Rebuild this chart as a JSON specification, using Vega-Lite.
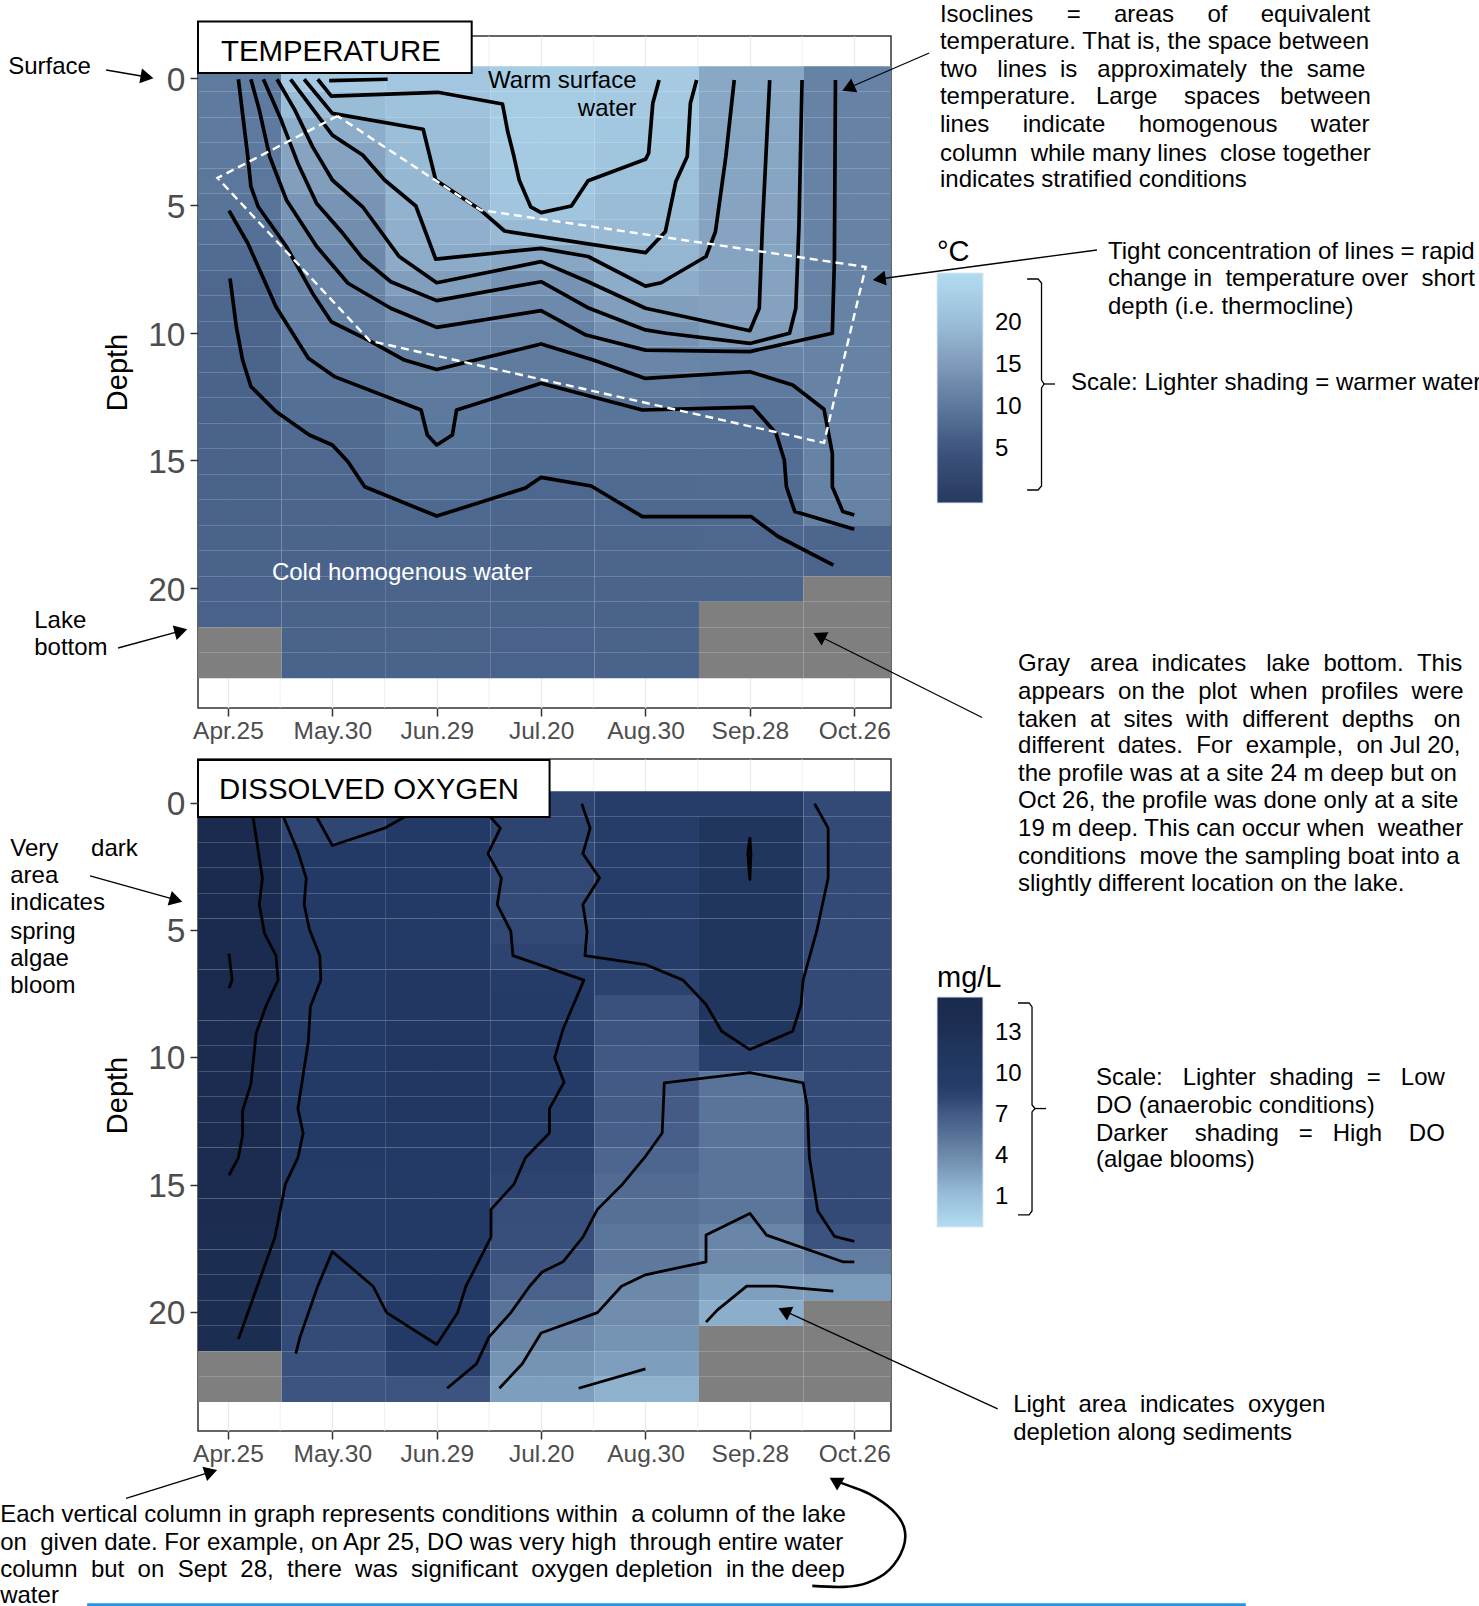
{
"$schema":"https://vega.github.io/schema/vega-lite/v6.json",
"autosize":{"type":"none"},
"padding":{"left":198,"top":36,"right":1281,"bottom":1570},
"background":"white",
"resolve":{"scale":{"color":"independent"},"legend":{"color":"independent"}},
"config":{"font":"Liberation Sans","view":{"stroke":"#333333","strokeWidth":1.5},"concat":{"spacing":51},"axis":{"domain":false,"grid":false,"tickColor":"#333333","tickWidth":1.5,"tickSize":8,"labelColor":"#4d4d4d","titleFontWeight":"normal"}},
"datasets":{
"grid":[{"col":1.5},{"col":2.5},{"col":3.5},{"col":4.5},{"col":5.5},{"col":6.5}],
"temp":[
{"col":1,"depth":0,"v":10.25},{"col":1,"depth":1,"v":10.2},{"col":1,"depth":2,"v":10.1},{"col":1,"depth":3,"v":9.95},{"col":1,"depth":4,"v":9.7},{"col":1,"depth":5,"v":9.2},{"col":1,"depth":6,"v":8.6},{"col":1,"depth":7,"v":8.05},{"col":1,"depth":8,"v":7.4},{"col":1,"depth":9,"v":7.2},{"col":1,"depth":10,"v":7.1},{"col":1,"depth":11,"v":7},{"col":1,"depth":12,"v":6.9},{"col":1,"depth":13,"v":6.9},{"col":1,"depth":14,"v":6.9},{"col":1,"depth":15,"v":6.9},{"col":1,"depth":16,"v":6.8},{"col":1,"depth":17,"v":6.8},{"col":1,"depth":18,"v":6.8},{"col":1,"depth":19,"v":6.8},{"col":1,"depth":20,"v":6.75},{"col":1,"depth":21,"v":6.75},{"col":1,"depth":22,"v":null},{"col":1,"depth":23,"v":null},
{"col":2,"depth":0,"v":22.2},{"col":2,"depth":1,"v":19.75},{"col":2,"depth":2,"v":17.55},{"col":2,"depth":3,"v":16.2},{"col":2,"depth":4,"v":15.3},{"col":2,"depth":5,"v":13.9},{"col":2,"depth":6,"v":13},{"col":2,"depth":7,"v":12.2},{"col":2,"depth":8,"v":11.6},{"col":2,"depth":9,"v":11},{"col":2,"depth":10,"v":10.5},{"col":2,"depth":11,"v":9.9},{"col":2,"depth":12,"v":9},{"col":2,"depth":13,"v":8.45},{"col":2,"depth":14,"v":7.85},{"col":2,"depth":15,"v":7.4},{"col":2,"depth":16,"v":7.2},{"col":2,"depth":17,"v":7.1},{"col":2,"depth":18,"v":7},{"col":2,"depth":19,"v":6.9},{"col":2,"depth":20,"v":6.9},{"col":2,"depth":21,"v":6.8},{"col":2,"depth":22,"v":6.8},{"col":2,"depth":23,"v":6.8},
{"col":3,"depth":0,"v":21.45},{"col":3,"depth":1,"v":20.7},{"col":3,"depth":2,"v":19.95},{"col":3,"depth":3,"v":19.4},{"col":3,"depth":4,"v":18.9},{"col":3,"depth":5,"v":18.35},{"col":3,"depth":6,"v":17.75},{"col":3,"depth":7,"v":17.2},{"col":3,"depth":8,"v":15.3},{"col":3,"depth":9,"v":13.4},{"col":3,"depth":10,"v":12},{"col":3,"depth":11,"v":11.1},{"col":3,"depth":12,"v":10.4},{"col":3,"depth":13,"v":9.95},{"col":3,"depth":14,"v":9.45},{"col":3,"depth":15,"v":8.8},{"col":3,"depth":16,"v":8.2},{"col":3,"depth":17,"v":7.6},{"col":3,"depth":18,"v":7.3},{"col":3,"depth":19,"v":7.1},{"col":3,"depth":20,"v":7},{"col":3,"depth":21,"v":6.9},{"col":3,"depth":22,"v":6.8},{"col":3,"depth":23,"v":6.8},
{"col":4,"depth":0,"v":22.9},{"col":4,"depth":1,"v":22.6},{"col":4,"depth":2,"v":22.5},{"col":4,"depth":3,"v":22.2},{"col":4,"depth":4,"v":21.85},{"col":4,"depth":5,"v":21.2},{"col":4,"depth":6,"v":19.3},{"col":4,"depth":7,"v":16.55},{"col":4,"depth":8,"v":13.75},{"col":4,"depth":9,"v":12.4},{"col":4,"depth":10,"v":11.25},{"col":4,"depth":11,"v":10.25},{"col":4,"depth":12,"v":9.15},{"col":4,"depth":13,"v":8.7},{"col":4,"depth":14,"v":8.3},{"col":4,"depth":15,"v":7.8},{"col":4,"depth":16,"v":7.4},{"col":4,"depth":17,"v":7.2},{"col":4,"depth":18,"v":7},{"col":4,"depth":19,"v":6.9},{"col":4,"depth":20,"v":6.8},{"col":4,"depth":21,"v":6.8},{"col":4,"depth":22,"v":6.75},{"col":4,"depth":23,"v":6.75},
{"col":5,"depth":0,"v":22.2},{"col":5,"depth":1,"v":22},{"col":5,"depth":2,"v":21.6},{"col":5,"depth":3,"v":21.1},{"col":5,"depth":4,"v":20.4},{"col":5,"depth":5,"v":19.75},{"col":5,"depth":6,"v":19.3},{"col":5,"depth":7,"v":18.7},{"col":5,"depth":8,"v":17.3},{"col":5,"depth":9,"v":15.3},{"col":5,"depth":10,"v":13.5},{"col":5,"depth":11,"v":11.75},{"col":5,"depth":12,"v":10.4},{"col":5,"depth":13,"v":9.15},{"col":5,"depth":14,"v":8.7},{"col":5,"depth":15,"v":8.3},{"col":5,"depth":16,"v":7.95},{"col":5,"depth":17,"v":7.5},{"col":5,"depth":18,"v":7.3},{"col":5,"depth":19,"v":7.1},{"col":5,"depth":20,"v":7},{"col":5,"depth":21,"v":6.9},{"col":5,"depth":22,"v":6.8},{"col":5,"depth":23,"v":6.8},
{"col":6,"depth":0,"v":16.7},{"col":6,"depth":1,"v":16.55},{"col":6,"depth":2,"v":16.5},{"col":6,"depth":3,"v":16.4},{"col":6,"depth":4,"v":16.3},{"col":6,"depth":5,"v":16.2},{"col":6,"depth":6,"v":16.2},{"col":6,"depth":7,"v":16.1},{"col":6,"depth":8,"v":16},{"col":6,"depth":9,"v":15.9},{"col":6,"depth":10,"v":15.05},{"col":6,"depth":11,"v":11.7},{"col":6,"depth":12,"v":10.2},{"col":6,"depth":13,"v":9.05},{"col":6,"depth":14,"v":8.7},{"col":6,"depth":15,"v":8.35},{"col":6,"depth":16,"v":8.05},{"col":6,"depth":17,"v":7.6},{"col":6,"depth":18,"v":7.4},{"col":6,"depth":19,"v":7.1},{"col":6,"depth":20,"v":7},{"col":6,"depth":21,"v":null},{"col":6,"depth":22,"v":null},{"col":6,"depth":23,"v":null},
{"col":7,"depth":0,"v":11.4},{"col":7,"depth":1,"v":11.4},{"col":7,"depth":2,"v":11.4},{"col":7,"depth":3,"v":11.4},{"col":7,"depth":4,"v":11.4},{"col":7,"depth":5,"v":11.3},{"col":7,"depth":6,"v":11.3},{"col":7,"depth":7,"v":11.3},{"col":7,"depth":8,"v":11.3},{"col":7,"depth":9,"v":11.3},{"col":7,"depth":10,"v":11.3},{"col":7,"depth":11,"v":11.3},{"col":7,"depth":12,"v":11.3},{"col":7,"depth":13,"v":11.3},{"col":7,"depth":14,"v":11.3},{"col":7,"depth":15,"v":11.3},{"col":7,"depth":16,"v":11.3},{"col":7,"depth":17,"v":11.25},{"col":7,"depth":18,"v":7.3},{"col":7,"depth":19,"v":7.1},{"col":7,"depth":20,"v":null},{"col":7,"depth":21,"v":null},{"col":7,"depth":22,"v":null},{"col":7,"depth":23,"v":null}
],
"oxy":[
{"col":1,"depth":0,"v":14.9},{"col":1,"depth":1,"v":14.9},{"col":1,"depth":2,"v":14.9},{"col":1,"depth":3,"v":14.9},{"col":1,"depth":4,"v":14.9},{"col":1,"depth":5,"v":14.9},{"col":1,"depth":6,"v":14.9},{"col":1,"depth":7,"v":14.9},{"col":1,"depth":8,"v":14.9},{"col":1,"depth":9,"v":14.6},{"col":1,"depth":10,"v":14.6},{"col":1,"depth":11,"v":14.6},{"col":1,"depth":12,"v":14.6},{"col":1,"depth":13,"v":14.6},{"col":1,"depth":14,"v":14.6},{"col":1,"depth":15,"v":14.6},{"col":1,"depth":16,"v":14.6},{"col":1,"depth":17,"v":14},{"col":1,"depth":18,"v":14},{"col":1,"depth":19,"v":14},{"col":1,"depth":20,"v":14},{"col":1,"depth":21,"v":14},{"col":1,"depth":22,"v":null},{"col":1,"depth":23,"v":null},
{"col":2,"depth":0,"v":8},{"col":2,"depth":1,"v":8},{"col":2,"depth":2,"v":10},{"col":2,"depth":3,"v":10},{"col":2,"depth":4,"v":10},{"col":2,"depth":5,"v":10},{"col":2,"depth":6,"v":10},{"col":2,"depth":7,"v":10},{"col":2,"depth":8,"v":10},{"col":2,"depth":9,"v":10},{"col":2,"depth":10,"v":10},{"col":2,"depth":11,"v":10},{"col":2,"depth":12,"v":10},{"col":2,"depth":13,"v":10},{"col":2,"depth":14,"v":10},{"col":2,"depth":15,"v":9.6},{"col":2,"depth":16,"v":9.6},{"col":2,"depth":17,"v":9.6},{"col":2,"depth":18,"v":9.6},{"col":2,"depth":19,"v":8.1},{"col":2,"depth":20,"v":7.9},{"col":2,"depth":21,"v":7.7},{"col":2,"depth":22,"v":7.4},{"col":2,"depth":23,"v":7.2},
{"col":3,"depth":0,"v":10},{"col":3,"depth":1,"v":10},{"col":3,"depth":2,"v":10},{"col":3,"depth":3,"v":10},{"col":3,"depth":4,"v":10},{"col":3,"depth":5,"v":10},{"col":3,"depth":6,"v":10},{"col":3,"depth":7,"v":10.6},{"col":3,"depth":8,"v":10.6},{"col":3,"depth":9,"v":10.6},{"col":3,"depth":10,"v":10.6},{"col":3,"depth":11,"v":10.6},{"col":3,"depth":12,"v":10.6},{"col":3,"depth":13,"v":10},{"col":3,"depth":14,"v":10},{"col":3,"depth":15,"v":10},{"col":3,"depth":16,"v":10},{"col":3,"depth":17,"v":10},{"col":3,"depth":18,"v":10},{"col":3,"depth":19,"v":10},{"col":3,"depth":20,"v":10},{"col":3,"depth":21,"v":10},{"col":3,"depth":22,"v":8.2},{"col":3,"depth":23,"v":7.2},
{"col":4,"depth":0,"v":8.1},{"col":4,"depth":1,"v":8.1},{"col":4,"depth":2,"v":8},{"col":4,"depth":3,"v":7.9},{"col":4,"depth":4,"v":7.8},{"col":4,"depth":5,"v":7.9},{"col":4,"depth":6,"v":8.1},{"col":4,"depth":7,"v":9},{"col":4,"depth":8,"v":9.6},{"col":4,"depth":9,"v":9.6},{"col":4,"depth":10,"v":9.6},{"col":4,"depth":11,"v":9.6},{"col":4,"depth":12,"v":9.6},{"col":4,"depth":13,"v":8.5},{"col":4,"depth":14,"v":8.3},{"col":4,"depth":15,"v":8.1},{"col":4,"depth":16,"v":7.6},{"col":4,"depth":17,"v":7.5},{"col":4,"depth":18,"v":7.3},{"col":4,"depth":19,"v":6.4},{"col":4,"depth":20,"v":5.2},{"col":4,"depth":21,"v":4.1},{"col":4,"depth":22,"v":3.3},{"col":4,"depth":23,"v":2.7},
{"col":5,"depth":0,"v":8.5},{"col":5,"depth":1,"v":8.5},{"col":5,"depth":2,"v":8.5},{"col":5,"depth":3,"v":8.5},{"col":5,"depth":4,"v":8.5},{"col":5,"depth":5,"v":8.5},{"col":5,"depth":6,"v":8.5},{"col":5,"depth":7,"v":8.2},{"col":5,"depth":8,"v":7.4},{"col":5,"depth":9,"v":7.2},{"col":5,"depth":10,"v":7},{"col":5,"depth":11,"v":6.9},{"col":5,"depth":12,"v":6.8},{"col":5,"depth":13,"v":6.6},{"col":5,"depth":14,"v":6.1},{"col":5,"depth":15,"v":5.8},{"col":5,"depth":16,"v":5.5},{"col":5,"depth":17,"v":5.1},{"col":5,"depth":18,"v":4.9},{"col":5,"depth":19,"v":3.9},{"col":5,"depth":20,"v":3.7},{"col":5,"depth":21,"v":3.3},{"col":5,"depth":22,"v":2.7},{"col":5,"depth":23,"v":1.6},
{"col":6,"depth":0,"v":8.5},{"col":6,"depth":1,"v":11.2},{"col":6,"depth":2,"v":11.2},{"col":6,"depth":3,"v":11.2},{"col":6,"depth":4,"v":11.2},{"col":6,"depth":5,"v":11.2},{"col":6,"depth":6,"v":11.2},{"col":6,"depth":7,"v":11.2},{"col":6,"depth":8,"v":11.2},{"col":6,"depth":9,"v":11.2},{"col":6,"depth":10,"v":8.3},{"col":6,"depth":11,"v":5.2},{"col":6,"depth":12,"v":5.2},{"col":6,"depth":13,"v":5.2},{"col":6,"depth":14,"v":5.2},{"col":6,"depth":15,"v":5.2},{"col":6,"depth":16,"v":5.1},{"col":6,"depth":17,"v":4.1},{"col":6,"depth":18,"v":3.8},{"col":6,"depth":19,"v":2.6},{"col":6,"depth":20,"v":1.8},{"col":6,"depth":21,"v":null},{"col":6,"depth":22,"v":null},{"col":6,"depth":23,"v":null},
{"col":7,"depth":0,"v":7.8},{"col":7,"depth":1,"v":7.8},{"col":7,"depth":2,"v":7.8},{"col":7,"depth":3,"v":7.8},{"col":7,"depth":4,"v":7.8},{"col":7,"depth":5,"v":7.8},{"col":7,"depth":6,"v":7.8},{"col":7,"depth":7,"v":7.8},{"col":7,"depth":8,"v":7.8},{"col":7,"depth":9,"v":7.8},{"col":7,"depth":10,"v":7.8},{"col":7,"depth":11,"v":7.8},{"col":7,"depth":12,"v":7.8},{"col":7,"depth":13,"v":7.8},{"col":7,"depth":14,"v":7.8},{"col":7,"depth":15,"v":7.8},{"col":7,"depth":16,"v":7.8},{"col":7,"depth":17,"v":7.3},{"col":7,"depth":18,"v":4.7},{"col":7,"depth":19,"v":2.8},{"col":7,"depth":20,"v":null},{"col":7,"depth":21,"v":null},{"col":7,"depth":22,"v":null},{"col":7,"depth":23,"v":null}
],
"isoT":[
{"g":"A","o":1,"col":1.97,"depth":0.1},{"g":"A","o":2,"col":2.53,"depth":0.05},
{"g":"B","o":1,"col":1.86,"depth":0.05},{"g":"B","o":2,"col":1.99,"depth":0.71},{"g":"B","o":3,"col":3.01,"depth":0.56},{"g":"B","o":4,"col":3.63,"depth":1.02},{"g":"B","o":5,"col":3.68,"depth":2.1},{"g":"B","o":6,"col":3.74,"depth":3.08},{"g":"B","o":7,"col":3.79,"depth":4},{"g":"B","o":8,"col":3.9,"depth":5.05},{"g":"B","o":9,"col":4,"depth":5.28},{"g":"B","o":10,"col":4.29,"depth":5.02},{"g":"B","o":11,"col":4.45,"depth":4.03},{"g":"B","o":12,"col":5,"depth":3.19},{"g":"B","o":13,"col":5.03,"depth":2.95},{"g":"B","o":14,"col":5.07,"depth":0.99},{"g":"B","o":15,"col":5.13,"depth":0.08},
{"g":"C","o":1,"col":1.73,"depth":0.05},{"g":"C","o":2,"col":2,"depth":1.39},{"g":"C","o":3,"col":2.87,"depth":2.01},{"g":"C","o":4,"col":2.99,"depth":4},{"g":"C","o":5,"col":3.42,"depth":5.18},{"g":"C","o":6,"col":3.65,"depth":6},{"g":"C","o":7,"col":5,"depth":6.85},{"g":"C","o":8,"col":5.19,"depth":6.03},{"g":"C","o":9,"col":5.29,"depth":4.07},{"g":"C","o":10,"col":5.4,"depth":3.08},{"g":"C","o":11,"col":5.43,"depth":0.99},{"g":"C","o":12,"col":5.49,"depth":0.08},
{"g":"D","o":1,"col":1.6,"depth":0.05},{"g":"D","o":2,"col":2,"depth":2.24},{"g":"D","o":3,"col":2.29,"depth":3.02},{"g":"D","o":4,"col":2.5,"depth":4},{"g":"D","o":5,"col":2.8,"depth":5.02},{"g":"D","o":6,"col":2.99,"depth":7.1},{"g":"D","o":7,"col":4,"depth":6.68},{"g":"D","o":8,"col":4.45,"depth":7},{"g":"D","o":9,"col":5,"depth":8.16},{"g":"D","o":10,"col":5.15,"depth":8.03},{"g":"D","o":11,"col":5.58,"depth":7},{"g":"D","o":12,"col":5.67,"depth":6.03},{"g":"D","o":13,"col":5.77,"depth":3.08},{"g":"D","o":14,"col":5.85,"depth":0.08},
{"g":"E","o":1,"col":1.47,"depth":0.05},{"g":"E","o":2,"col":1.64,"depth":1.25},{"g":"E","o":3,"col":1.81,"depth":2.69},{"g":"E","o":4,"col":2,"depth":4},{"g":"E","o":5,"col":2.29,"depth":5.05},{"g":"E","o":6,"col":2.64,"depth":7},{"g":"E","o":7,"col":3,"depth":8.03},{"g":"E","o":8,"col":4,"depth":7.2},{"g":"E","o":9,"col":4.45,"depth":7.99},{"g":"E","o":10,"col":5,"depth":9.03},{"g":"E","o":11,"col":6,"depth":9.91},{"g":"E","o":12,"col":6.09,"depth":9.03},{"g":"E","o":13,"col":6.12,"depth":5.83},{"g":"E","o":14,"col":6.19,"depth":0.08},
{"g":"F","o":1,"col":1.34,"depth":0.05},{"g":"F","o":2,"col":1.51,"depth":1.65},{"g":"F","o":3,"col":1.67,"depth":3.35},{"g":"F","o":4,"col":1.85,"depth":4.92},{"g":"F","o":5,"col":2.1,"depth":6.09},{"g":"F","o":6,"col":2.29,"depth":7.07},{"g":"F","o":7,"col":2.56,"depth":7.99},{"g":"F","o":8,"col":3,"depth":8.73},{"g":"F","o":9,"col":4,"depth":7.99},{"g":"F","o":10,"col":4.46,"depth":9.03},{"g":"F","o":11,"col":5,"depth":9.88},{"g":"F","o":12,"col":5.2,"depth":10.01},{"g":"F","o":13,"col":6,"depth":10.41},{"g":"F","o":14,"col":6.38,"depth":10.01},{"g":"F","o":15,"col":6.44,"depth":9.03},{"g":"F","o":16,"col":6.47,"depth":5.83},{"g":"F","o":17,"col":6.5,"depth":0.08},
{"g":"G","o":1,"col":1.22,"depth":0.05},{"g":"G","o":2,"col":1.3,"depth":1.25},{"g":"G","o":3,"col":1.4,"depth":3.08},{"g":"G","o":4,"col":1.56,"depth":4.78},{"g":"G","o":5,"col":1.85,"depth":6.61},{"g":"G","o":6,"col":2.15,"depth":8.05},{"g":"G","o":7,"col":2.56,"depth":9.03},{"g":"G","o":8,"col":3,"depth":9.78},{"g":"G","o":9,"col":4,"depth":9.12},{"g":"G","o":10,"col":4.43,"depth":10.08},{"g":"G","o":11,"col":5,"depth":10.67},{"g":"G","o":12,"col":6,"depth":10.73},{"g":"G","o":13,"col":6.79,"depth":10.01},{"g":"G","o":14,"col":6.81,"depth":7.14},{"g":"G","o":15,"col":6.82,"depth":0.08},
{"g":"H","o":1,"col":1.1,"depth":0.05},{"g":"H","o":2,"col":1.19,"depth":3.08},{"g":"H","o":3,"col":1.22,"depth":4.26},{"g":"H","o":4,"col":1.29,"depth":5.05},{"g":"H","o":5,"col":1.56,"depth":6.61},{"g":"H","o":6,"col":1.81,"depth":8.44},{"g":"H","o":7,"col":1.99,"depth":9.56},{"g":"H","o":8,"col":2.34,"depth":10.27},{"g":"H","o":9,"col":2.69,"depth":11.06},{"g":"H","o":10,"col":3,"depth":11.43},{"g":"H","o":11,"col":4,"depth":10.43},{"g":"H","o":12,"col":4.5,"depth":11.06},{"g":"H","o":13,"col":5,"depth":11.78},{"g":"H","o":14,"col":6,"depth":11.52},{"g":"H","o":15,"col":6.41,"depth":12.04},{"g":"H","o":16,"col":6.71,"depth":12.99},{"g":"H","o":17,"col":6.79,"depth":14.72},{"g":"H","o":18,"col":6.79,"depth":16.03},{"g":"H","o":19,"col":6.89,"depth":17},{"g":"H","o":20,"col":7,"depth":17.14},
{"g":"I","o":1,"col":1.01,"depth":5.2},{"g":"I","o":2,"col":1.19,"depth":6.48},{"g":"I","o":3,"col":1.46,"depth":8.97},{"g":"I","o":4,"col":1.77,"depth":10.99},{"g":"I","o":5,"col":2.02,"depth":11.71},{"g":"I","o":6,"col":2.85,"depth":13.02},{"g":"I","o":7,"col":2.91,"depth":14},{"g":"I","o":8,"col":3,"depth":14.39},{"g":"I","o":9,"col":3.15,"depth":14},{"g":"I","o":10,"col":3.19,"depth":13.02},{"g":"I","o":11,"col":4,"depth":11.97},{"g":"I","o":12,"col":4.97,"depth":13.02},{"g":"I","o":13,"col":6.03,"depth":12.91},{"g":"I","o":14,"col":6.25,"depth":13.93},{"g":"I","o":15,"col":6.33,"depth":14.98},{"g":"I","o":16,"col":6.35,"depth":16.03},{"g":"I","o":17,"col":6.43,"depth":17},{"g":"I","o":18,"col":7,"depth":17.7},
{"g":"J","o":1,"col":1.02,"depth":7.86},{"g":"J","o":2,"col":1.08,"depth":9.75},{"g":"J","o":3,"col":1.14,"depth":11.06},{"g":"J","o":4,"col":1.22,"depth":12.1},{"g":"J","o":5,"col":1.46,"depth":13.08},{"g":"J","o":6,"col":1.78,"depth":14},{"g":"J","o":7,"col":2,"depth":14.39},{"g":"J","o":8,"col":2.15,"depth":15.05},{"g":"J","o":9,"col":2.31,"depth":16.03},{"g":"J","o":10,"col":3,"depth":17.18},{"g":"J","o":11,"col":3.85,"depth":16.08},{"g":"J","o":12,"col":4,"depth":15.66},{"g":"J","o":13,"col":4.48,"depth":16},{"g":"J","o":14,"col":4.97,"depth":17.2},{"g":"J","o":15,"col":6.01,"depth":17.2},{"g":"J","o":16,"col":6.27,"depth":17.98},{"g":"J","o":17,"col":6.8,"depth":19.1}
],
"poly":[{"o":1,"col":2.05,"depth":1.49},{"o":2,"col":0.9,"depth":3.92},{"o":3,"col":2.36,"depth":10.31},{"o":4,"col":6.71,"depth":14.31},{"o":5,"col":7.11,"depth":7.41},{"o":6,"col":3.42,"depth":5.18},{"o":7,"col":2.05,"depth":1.49}],
"isoO":[
{"g":"a","o":1,"col":1.22,"depth":0},{"g":"a","o":2,"col":1.33,"depth":2.95},{"g":"a","o":3,"col":1.3,"depth":3.99},{"g":"a","o":4,"col":1.35,"depth":5.12},{"g":"a","o":5,"col":1.46,"depth":6},{"g":"a","o":6,"col":1.48,"depth":6.96},{"g":"a","o":7,"col":1.37,"depth":7.92},{"g":"a","o":8,"col":1.27,"depth":9.05},{"g":"a","o":9,"col":1.22,"depth":11.05},{"g":"a","o":10,"col":1.14,"depth":12.09},{"g":"a","o":11,"col":1.14,"depth":13.06},{"g":"a","o":12,"col":1.1,"depth":13.94},{"g":"a","o":13,"col":1.01,"depth":14.63},
{"g":"a0","o":1,"col":1.01,"depth":5.92},{"g":"a0","o":2,"col":1.04,"depth":6.96},{"g":"a0","o":3,"col":1.01,"depth":7.28},
{"g":"b","o":1,"col":1.51,"depth":0},{"g":"b","o":2,"col":1.54,"depth":0.63},{"g":"b","o":3,"col":1.67,"depth":1.91},{"g":"b","o":4,"col":1.75,"depth":2.95},{"g":"b","o":5,"col":1.73,"depth":3.99},{"g":"b","o":6,"col":1.78,"depth":4.96},{"g":"b","o":7,"col":1.88,"depth":6},{"g":"b","o":8,"col":1.89,"depth":6.96},{"g":"b","o":9,"col":1.79,"depth":8},{"g":"b","o":10,"col":1.77,"depth":9.37},{"g":"b","o":11,"col":1.67,"depth":12.01},{"g":"b","o":12,"col":1.72,"depth":12.98},{"g":"b","o":13,"col":1.67,"depth":13.94},{"g":"b","o":14,"col":1.55,"depth":14.98},{"g":"b","o":15,"col":1.45,"depth":17.06},{"g":"b","o":16,"col":1.1,"depth":21.07},
{"g":"c","o":1,"col":1.65,"depth":21.64},{"g":"c","o":2,"col":1.69,"depth":20.99},{"g":"c","o":3,"col":1.86,"depth":18.99},{"g":"c","o":4,"col":2,"depth":17.63},{"g":"c","o":5,"col":2.39,"depth":18.99},{"g":"c","o":6,"col":2.52,"depth":20.03},{"g":"c","o":7,"col":3,"depth":21.28},{"g":"c","o":8,"col":3.2,"depth":20.03},{"g":"c","o":9,"col":3.28,"depth":18.99},{"g":"c","o":10,"col":3.52,"depth":17.06},{"g":"c","o":11,"col":3.52,"depth":15.97},{"g":"c","o":12,"col":3.74,"depth":14.98},{"g":"c","o":13,"col":3.85,"depth":13.94},{"g":"c","o":14,"col":4.08,"depth":12.97},{"g":"c","o":15,"col":4.08,"depth":12.01},{"g":"c","o":16,"col":4.22,"depth":10.97},{"g":"c","o":17,"col":4.13,"depth":10.01},{"g":"c","o":18,"col":4.21,"depth":8.89},{"g":"c","o":19,"col":4.41,"depth":6.96},{"g":"c","o":20,"col":3.73,"depth":6},{"g":"c","o":21,"col":3.71,"depth":5.04},{"g":"c","o":22,"col":3.58,"depth":3.99},{"g":"c","o":23,"col":3.62,"depth":2.95},{"g":"c","o":24,"col":3.49,"depth":1.99},{"g":"c","o":25,"col":3.61,"depth":0.99},{"g":"c","o":26,"col":3.52,"depth":0.58},{"g":"c","o":27,"col":3.44,"depth":0},
{"g":"d","o":1,"col":1.75,"depth":0},{"g":"d","o":2,"col":1.85,"depth":0.55},{"g":"d","o":3,"col":2,"depth":1.67},{"g":"d","o":4,"col":2.5,"depth":0.99},{"g":"d","o":5,"col":2.69,"depth":0.55},{"g":"d","o":6,"col":2.85,"depth":0},
{"g":"e","o":1,"col":4.39,"depth":0.03},{"g":"e","o":2,"col":4.47,"depth":0.99},{"g":"e","o":3,"col":4.4,"depth":1.99},{"g":"e","o":4,"col":4.56,"depth":2.95},{"g":"e","o":5,"col":4.4,"depth":3.99},{"g":"e","o":6,"col":4.44,"depth":5.04},{"g":"e","o":7,"col":4.42,"depth":6},{"g":"e","o":8,"col":5,"depth":6.35},{"g":"e","o":9,"col":5.36,"depth":6.96},{"g":"e","o":10,"col":5.58,"depth":7.92},{"g":"e","o":11,"col":5.73,"depth":8.97},{"g":"e","o":12,"col":6,"depth":9.69},{"g":"e","o":13,"col":6.41,"depth":8.97},{"g":"e","o":14,"col":6.49,"depth":7.92},{"g":"e","o":15,"col":6.51,"depth":6.96},{"g":"e","o":16,"col":6.64,"depth":5.04},{"g":"e","o":17,"col":6.75,"depth":2.95},{"g":"e","o":18,"col":6.75,"depth":0.99},{"g":"e","o":19,"col":6.62,"depth":0.03},
{"g":"f","o":1,"col":6,"depth":1.35},{"g":"f","o":2,"col":5.98,"depth":1.99},{"g":"f","o":3,"col":6,"depth":3},{"g":"f","o":4,"col":6.01,"depth":1.99},{"g":"f","o":5,"col":6,"depth":1.35},
{"g":"g","o":1,"col":3.1,"depth":23},{"g":"g","o":2,"col":3.38,"depth":22.04},{"g":"g","o":3,"col":3.5,"depth":20.99},{"g":"g","o":4,"col":3.71,"depth":20.03},{"g":"g","o":5,"col":3.89,"depth":18.99},{"g":"g","o":6,"col":4.01,"depth":18.43},{"g":"g","o":7,"col":4.21,"depth":18.03},{"g":"g","o":8,"col":4.4,"depth":17.06},{"g":"g","o":9,"col":4.54,"depth":15.97},{"g":"g","o":10,"col":4.78,"depth":14.98},{"g":"g","o":11,"col":4.99,"depth":13.94},{"g":"g","o":12,"col":5.16,"depth":12.97},{"g":"g","o":13,"col":5.18,"depth":11},{"g":"g","o":14,"col":6,"depth":10.6},{"g":"g","o":15,"col":6.51,"depth":11},{"g":"g","o":16,"col":6.55,"depth":11.93},{"g":"g","o":17,"col":6.57,"depth":13.94},{"g":"g","o":18,"col":6.65,"depth":16.02},{"g":"g","o":19,"col":6.81,"depth":17.03},{"g":"g","o":20,"col":7,"depth":17.23},
{"g":"h","o":1,"col":3.6,"depth":23},{"g":"h","o":2,"col":3.82,"depth":22.04},{"g":"h","o":3,"col":4,"depth":20.83},{"g":"h","o":4,"col":4.54,"depth":20.03},{"g":"h","o":5,"col":4.77,"depth":18.99},{"g":"h","o":6,"col":5,"depth":18.54},{"g":"h","o":7,"col":5.58,"depth":18.03},{"g":"h","o":8,"col":5.58,"depth":16.98},{"g":"h","o":9,"col":6,"depth":16.13},{"g":"h","o":10,"col":6.16,"depth":16.98},{"g":"h","o":11,"col":6.89,"depth":18.03},{"g":"h","o":12,"col":7,"depth":18.03},
{"g":"i","o":1,"col":5.58,"depth":20.4},{"g":"i","o":2,"col":5.69,"depth":19.92},{"g":"i","o":3,"col":5.97,"depth":18.99},{"g":"i","o":4,"col":6.25,"depth":18.99},{"g":"i","o":5,"col":6.8,"depth":19.18},
{"g":"j","o":1,"col":4.36,"depth":23},{"g":"j","o":2,"col":5,"depth":22.24}
],
"curve":[{"o":1,"col":6.598,"depth":30.766},{"o":2,"col":6.904,"depth":30.806},{"o":3,"col":7.124,"depth":30.648},{"o":4,"col":7.335,"depth":30.137},{"o":5,"col":7.469,"depth":29.273},{"o":6,"col":7.478,"depth":28.487},{"o":7,"col":7.364,"depth":27.78},{"o":8,"col":7.144,"depth":27.151},{"o":9,"col":6.952,"depth":26.837},{"o":10,"col":6.818,"depth":26.64}],
"segT":[
{"col":-0.167,"depth":-0.314,"col2":0.225,"depth2":-0.039},
{"col":-0.053,"depth":22.353,"col2":0.55,"depth2":21.686},
{"col":7.718,"depth":-0.98,"col2":6.943,"depth2":0.392},
{"col":9.325,"depth":6.745,"col2":7.239,"depth2":7.882},
{"col":8.225,"depth":25.078,"col2":6.665,"depth2":21.882},
{"col":8.818,"depth":12,"col2":8.923,"depth2":12}
],
"segO":[
{"col":-0.321,"depth":2.868,"col2":0.502,"depth2":3.811},
{"col":8.374,"depth":23.811,"col2":6.33,"depth2":19.961},
{"col":0.024,"depth":27.332,"col2":0.837,"depth2":26.287},
{"col":8.732,"depth":12.008,"col2":8.837,"depth2":12.008}
],
"brT":[{"o":1,"col":8.656,"depth":7.882},{"o":2,"col":8.761,"depth":7.882},{"o":3,"col":8.794,"depth":8.039},{"o":4,"col":8.794,"depth":11.843},{"o":5,"col":8.818,"depth":12},{"o":6,"col":8.794,"depth":12.157},{"o":7,"col":8.794,"depth":16},{"o":8,"col":8.761,"depth":16.157},{"o":9,"col":8.656,"depth":16.157}],
"brO":[{"o":1,"col":8.569,"depth":7.859},{"o":2,"col":8.675,"depth":7.859},{"o":3,"col":8.703,"depth":8.016},{"o":4,"col":8.703,"depth":11.866},{"o":5,"col":8.732,"depth":12.008},{"o":6,"col":8.703,"depth":12.141},{"o":7,"col":8.703,"depth":16.031},{"o":8,"col":8.675,"depth":16.189},{"o":9,"col":8.569,"depth":16.189}],
"tickT":[
{"col":7.785,"col2":7.871,"depth":9.53},{"col":8.139,"col2":8.225,"depth":9.53},
{"col":7.785,"col2":7.871,"depth":11.14},{"col":8.139,"col2":8.225,"depth":11.14},
{"col":7.785,"col2":7.871,"depth":12.82},{"col":8.139,"col2":8.225,"depth":12.82},
{"col":7.785,"col2":7.871,"depth":14.47},{"col":8.139,"col2":8.225,"depth":14.47}],
"tickO":[
{"col":7.785,"col2":7.871,"depth":8.92},{"col":8.139,"col2":8.225,"depth":8.92},
{"col":7.785,"col2":7.871,"depth":10.57},{"col":8.139,"col2":8.225,"depth":10.57},
{"col":7.785,"col2":7.871,"depth":12.14},{"col":8.139,"col2":8.225,"depth":12.14},
{"col":7.785,"col2":7.871,"depth":13.79},{"col":8.139,"col2":8.225,"depth":13.79},
{"col":7.785,"col2":7.871,"depth":15.4},{"col":8.139,"col2":8.225,"depth":15.4}],
"headT":[{"col":0.225,"depth":-0.039,"a":100},{"col":0.55,"depth":21.686,"a":75},{"col":6.943,"depth":0.392,"a":246},{"col":7.239,"depth":7.882,"a":262},{"col":6.665,"depth":21.882,"a":297}],
"headO":[{"col":0.502,"depth":3.811,"a":106},{"col":6.33,"depth":19.961,"a":295},{"col":0.837,"depth":26.287,"a":72},{"col":6.818,"depth":26.64,"a":300}],
"boxT":[{"col":0.713,"col2":3.335,"depth":-2.22,"depth2":-0.196}],
"boxO":[{"col":0.713,"col2":4.081,"depth":-1.69,"depth2":0.55}],
"bar":[{"col":-0.349,"col2":10.751,"depth":31.513}],
"txtT":[
{"col":7.821,"depth":-2.494,"t":"Isoclines \u00a0\u00a0\u00a0\u00a0= \u00a0\u00a0\u00a0\u00a0areas \u00a0\u00a0\u00a0\u00a0of \u00a0\u00a0\u00a0\u00a0equivalent"},
{"col":7.821,"depth":-1.451,"t":"temperature. That is, the space between"},
{"col":7.821,"depth":-0.365,"t":"two \u00a0\u00a0lines \u00a0is \u00a0\u00a0approximately \u00a0the \u00a0same"},
{"col":7.821,"depth":0.722,"t":"temperature. \u00a0\u00a0Large \u00a0\u00a0\u00a0spaces \u00a0\u00a0between"},
{"col":7.821,"depth":1.804,"t":"lines \u00a0\u00a0\u00a0\u00a0indicate \u00a0\u00a0\u00a0\u00a0homogenous \u00a0\u00a0\u00a0\u00a0water"},
{"col":7.821,"depth":2.929,"t":"column \u00a0while many lines \u00a0close together"},
{"col":7.821,"depth":3.976,"t":"indicates stratified conditions"},
{"col":9.431,"depth":6.784,"t":"Tight concentration of lines = rapid"},
{"col":9.431,"depth":7.843,"t":"change in \u00a0temperature over \u00a0short"},
{"col":9.431,"depth":8.922,"t":"depth (i.e. thermocline)"},
{"col":9.077,"depth":11.922,"t":"Scale: Lighter shading = warmer water"},
{"col":-1.105,"depth":-0.471,"t":"Surface"},
{"col":-0.856,"depth":21.255,"t":"Lake"},
{"col":-0.856,"depth":22.314,"t":"bottom"},
{"col":8.569,"depth":22.941,"t":"Gray \u00a0\u00a0area \u00a0indicates \u00a0\u00a0lake \u00a0bottom. \u00a0This"},
{"col":8.569,"depth":24.039,"t":"appears \u00a0on the \u00a0plot \u00a0when \u00a0profiles \u00a0were"},
{"col":8.569,"depth":25.118,"t":"taken \u00a0at \u00a0sites \u00a0with \u00a0different \u00a0depths \u00a0\u00a0on"},
{"col":8.569,"depth":26.157,"t":"different \u00a0dates. \u00a0For \u00a0example, \u00a0on Jul 20,"},
{"col":8.569,"depth":27.255,"t":"the profile was at a site 24 m deep but on"},
{"col":8.569,"depth":28.333,"t":"Oct 26, the profile was done only at a site"},
{"col":8.569,"depth":29.412,"t":"19 m deep. This can occur when \u00a0weather"},
{"col":8.569,"depth":30.51,"t":"conditions \u00a0move the sampling boat into a"},
{"col":8.569,"depth":31.588,"t":"slightly different location on the lake."}
],
"txtO":[
{"col":-1.086,"depth":1.807,"t":"Very"},
{"col":-0.311,"depth":1.807,"t":"dark"},
{"col":-1.086,"depth":2.868,"t":"area"},
{"col":-1.086,"depth":3.929,"t":"indicates"},
{"col":-1.086,"depth":5.069,"t":"spring"},
{"col":-1.086,"depth":6.13,"t":"algae"},
{"col":-1.086,"depth":7.191,"t":"bloom"},
{"col":9.316,"depth":10.806,"t":"Scale: \u00a0\u00a0Lighter \u00a0shading \u00a0= \u00a0\u00a0Low"},
{"col":9.316,"depth":11.906,"t":"DO (anaerobic conditions)"},
{"col":9.316,"depth":13.006,"t":"Darker \u00a0\u00a0\u00a0shading \u00a0\u00a0= \u00a0\u00a0High \u00a0\u00a0\u00a0DO"},
{"col":9.316,"depth":14.028,"t":"(algae blooms)"},
{"col":8.522,"depth":23.654,"t":"Light \u00a0area \u00a0indicates \u00a0oxygen"},
{"col":8.522,"depth":24.754,"t":"depletion along sediments"},
{"col":-1.182,"depth":27.976,"t":"Each vertical column in graph represents conditions within \u00a0a column of the lake"},
{"col":-1.182,"depth":29.076,"t":"on \u00a0given date. For example, on Apr 25, DO was very high \u00a0through entire water"},
{"col":-1.182,"depth":30.138,"t":"column \u00a0but \u00a0on \u00a0Sept \u00a028, \u00a0there \u00a0was \u00a0significant \u00a0oxygen depletion \u00a0in the deep"},
{"col":-1.182,"depth":31.159,"t":"water"}
],
"warm":[{"col":4.914,"depth":0.078,"t":"Warm surface"},{"col":4.914,"depth":1.176,"t":"water"}],
"cold":[{"col":1.421,"depth":19.373,"t":"Cold homogenous water"}],
"titleT":[{"col":0.933,"depth":-1.059,"t":"TEMPERATURE"}],
"titleO":[{"col":0.914,"depth":-0.55,"t":"DISSOLVED OXYGEN"}]
},
"vconcat":[
{"width":693,"height":672,"layer":[
{"data":{"name":"grid"},"mark":{"type":"rule","color":"#ebebeb","strokeWidth":0.7},"encoding":{"x":{"field":"col","type":"quantitative","scale":{"domain":[0.713,7.352],"nice":false,"zero":false},"axis":{"title":null,"values":[1,2,3,4,5,6,7],"grid":true,"gridColor":"#ebebeb","gridWidth":1.3,"labelFontSize":24.5,"labelPadding":3,"labelExpr":"['Apr.25','May.30','Jun.29','Jul.20','Aug.30','Sep.28','Oct.26'][datum.value-1]"}}}},
{"data":{"name":"temp"},"transform":[{"filter":"datum.v!==null"}],"mark":{"type":"rect","clip":true,"xOffset":0.8,"yOffset":0.6},"encoding":{
"x":{"field":"col","type":"quantitative","bin":{"step":1,"extent":[0.5,7.5],"nice":false},"scale":{"domain":[0.713,7.352],"nice":false,"zero":false},"title":null},
"y":{"field":"depth","type":"quantitative","bin":{"step":1,"extent":[-0.5,23.5],"nice":false},"scale":{"domain":[24.706,-1.647],"nice":false,"zero":false},"axis":{"title":"Depth","titleFontSize":29,"titleColor":"#000000","titlePadding":15,"values":[0,5,10,15,20],"format":"d","labelFontSize":33.5,"labelPadding":5,"labelOffset":2.5}},
"color":{"field":"v","type":"quantitative","scale":{"domain":[-1.6,5,10,15,20,25.7],"range":["#26395f","#3f5680","#5d7a9e","#7f9cbb","#9cbfd9","#b3dcf0"]},"legend":{"type":"gradient","zindex":-1,"orient":"none","legendX":739,"legendY":202,"direction":"vertical","title":"°C","titleFontSize":29,"titleFontWeight":"normal","titleColor":"#000000","titlePadding":6,"gradientLength":230,"gradientThickness":46,"gradientStrokeColor":"#dce8f2","gradientStrokeWidth":1,"labelFontSize":24,"labelColor":"#000000","labelOffset":12,"values":[5,10,15,20],"encode":{"labels":{"update":{"dy":{"value":2}}}}}}}},
{"data":{"name":"temp"},"transform":[{"filter":"datum.v===null"}],"mark":{"type":"rect","clip":true,"color":"#7f7f7f","xOffset":0.8,"yOffset":0.6},"encoding":{
"x":{"field":"col","type":"quantitative","bin":{"step":1,"extent":[0.5,7.5],"nice":false},"title":null},
"y":{"field":"depth","type":"quantitative","bin":{"step":1,"extent":[-0.5,23.5],"nice":false}}}},
{"data":{"name":"isoT"},"mark":{"type":"line","color":"#000000","strokeWidth":3.7,"strokeJoin":"round"},"encoding":{"x":{"field":"col","type":"quantitative","title":null},"y":{"field":"depth","type":"quantitative"},"detail":{"field":"g"},"order":{"field":"o"}}},
{"data":{"name":"poly"},"mark":{"type":"line","color":"#ffffff","strokeWidth":2.4,"strokeDash":[8,5]},"encoding":{"x":{"field":"col","type":"quantitative","title":null},"y":{"field":"depth","type":"quantitative"},"order":{"field":"o"}}},
{"data":{"name":"segT"},"mark":{"type":"rule","color":"#000000","strokeWidth":1.3},"encoding":{"x":{"field":"col","type":"quantitative","title":null},"x2":{"field":"col2"},"y":{"field":"depth","type":"quantitative"},"y2":{"field":"depth2"}}},
{"data":{"name":"brT"},"mark":{"type":"line","color":"#000000","strokeWidth":1.3},"encoding":{"x":{"field":"col","type":"quantitative","title":null},"y":{"field":"depth","type":"quantitative"},"order":{"field":"o"}}},
{"data":{"name":"tickT"},"mark":{"type":"rule","color":"#ffffff","strokeWidth":1,"opacity":0.7},"encoding":{"x":{"field":"col","type":"quantitative","title":null},"x2":{"field":"col2"},"y":{"field":"depth","type":"quantitative"}}},
{"data":{"name":"headT"},"mark":{"type":"point","shape":"triangle-up","filled":true,"color":"#000000","opacity":1,"size":225},"encoding":{"x":{"field":"col","type":"quantitative","title":null},"y":{"field":"depth","type":"quantitative"},"angle":{"field":"a","type":"quantitative","scale":null}}},
{"data":{"name":"boxT"},"mark":{"type":"rect","fill":"#ffffff","stroke":"#000000","strokeWidth":2},"encoding":{"x":{"field":"col","type":"quantitative","title":null},"x2":{"field":"col2"},"y":{"field":"depth","type":"quantitative"},"y2":{"field":"depth2"}}},
{"data":{"name":"titleT"},"mark":{"type":"text","align":"left","baseline":"middle","fontSize":29.4,"color":"#000000","dy":1},"encoding":{"x":{"field":"col","type":"quantitative","title":null},"y":{"field":"depth","type":"quantitative"},"text":{"field":"t"}}},
{"data":{"name":"txtT"},"mark":{"type":"text","align":"left","baseline":"middle","fontSize":24,"color":"#000000","dy":1},"encoding":{"x":{"field":"col","type":"quantitative","title":null},"y":{"field":"depth","type":"quantitative"},"text":{"field":"t"}}},
{"data":{"name":"warm"},"mark":{"type":"text","align":"right","baseline":"middle","fontSize":24,"color":"#000000","dy":1},"encoding":{"x":{"field":"col","type":"quantitative","title":null},"y":{"field":"depth","type":"quantitative"},"text":{"field":"t"}}},
{"data":{"name":"cold"},"mark":{"type":"text","align":"left","baseline":"middle","fontSize":24,"color":"#ffffff","dy":1},"encoding":{"x":{"field":"col","type":"quantitative","title":null},"y":{"field":"depth","type":"quantitative"},"text":{"field":"t"}}}
]},
{"width":693,"height":672,"layer":[
{"data":{"name":"grid"},"mark":{"type":"rule","color":"#ebebeb","strokeWidth":0.7},"encoding":{"x":{"field":"col","type":"quantitative","scale":{"domain":[0.713,7.352],"nice":false,"zero":false},"axis":{"title":null,"values":[1,2,3,4,5,6,7],"grid":true,"gridColor":"#ebebeb","gridWidth":1.3,"labelFontSize":24.5,"labelPadding":3,"labelExpr":"['Apr.25','May.30','Jun.29','Jul.20','Aug.30','Sep.28','Oct.26'][datum.value-1]"}}}},
{"data":{"name":"oxy"},"transform":[{"filter":"datum.v!==null"}],"mark":{"type":"rect","clip":true,"xOffset":0.8,"yOffset":0.6},"encoding":{
"x":{"field":"col","type":"quantitative","bin":{"step":1,"extent":[0.5,7.5],"nice":false},"scale":{"domain":[0.713,7.352],"nice":false,"zero":false},"title":null},
"y":{"field":"depth","type":"quantitative","bin":{"step":1,"extent":[-0.5,23.5],"nice":false},"scale":{"domain":[24.68,-1.729],"nice":false,"zero":false},"axis":{"title":"Depth","titleFontSize":29,"titleColor":"#000000","titlePadding":15,"values":[0,5,10,15,20],"format":"d","labelFontSize":33.5,"labelPadding":5,"labelOffset":1.5}},
"color":{"field":"v","type":"quantitative","scale":{"domain":[-1.4,1,4,7,8.5,10,13,15.4],"range":["#b3dcf0","#97bcd8","#6b87a8","#415884","#263d6a","#233a66","#1e2f55","#192a4d"]},"legend":{"type":"gradient","zindex":-1,"orient":"none","legendX":739,"legendY":205,"direction":"vertical","title":"mg/L","titleFontSize":29,"titleFontWeight":"normal","titleColor":"#000000","titlePadding":4,"gradientLength":230,"gradientThickness":46,"gradientStrokeColor":"#dce8f2","gradientStrokeWidth":1,"labelFontSize":24,"labelColor":"#000000","labelOffset":12,"values":[1,4,7,10,13],"encode":{"labels":{"update":{"dy":{"value":3}}}}}}}},
{"data":{"name":"oxy"},"transform":[{"filter":"datum.v===null"}],"mark":{"type":"rect","clip":true,"color":"#7f7f7f","xOffset":0.8,"yOffset":0.6},"encoding":{
"x":{"field":"col","type":"quantitative","bin":{"step":1,"extent":[0.5,7.5],"nice":false},"title":null},
"y":{"field":"depth","type":"quantitative","bin":{"step":1,"extent":[-0.5,23.5],"nice":false}}}},
{"data":{"name":"isoO"},"mark":{"type":"line","color":"#000000","strokeWidth":2.8,"strokeJoin":"round"},"encoding":{"x":{"field":"col","type":"quantitative","title":null},"y":{"field":"depth","type":"quantitative"},"detail":{"field":"g"},"order":{"field":"o"}}},
{"data":{"name":"curve"},"mark":{"type":"line","color":"#000000","strokeWidth":2.6,"interpolate":"cardinal"},"encoding":{"x":{"field":"col","type":"quantitative","title":null},"y":{"field":"depth","type":"quantitative"},"order":{"field":"o"}}},
{"data":{"name":"segO"},"mark":{"type":"rule","color":"#000000","strokeWidth":1.3},"encoding":{"x":{"field":"col","type":"quantitative","title":null},"x2":{"field":"col2"},"y":{"field":"depth","type":"quantitative"},"y2":{"field":"depth2"}}},
{"data":{"name":"brO"},"mark":{"type":"line","color":"#000000","strokeWidth":1.3},"encoding":{"x":{"field":"col","type":"quantitative","title":null},"y":{"field":"depth","type":"quantitative"},"order":{"field":"o"}}},
{"data":{"name":"tickO"},"mark":{"type":"rule","color":"#ffffff","strokeWidth":1,"opacity":0.7},"encoding":{"x":{"field":"col","type":"quantitative","title":null},"x2":{"field":"col2"},"y":{"field":"depth","type":"quantitative"}}},
{"data":{"name":"headO"},"mark":{"type":"point","shape":"triangle-up","filled":true,"color":"#000000","opacity":1,"size":225},"encoding":{"x":{"field":"col","type":"quantitative","title":null},"y":{"field":"depth","type":"quantitative"},"angle":{"field":"a","type":"quantitative","scale":null}}},
{"data":{"name":"bar"},"mark":{"type":"rule","color":"#1e96e8","strokeWidth":3},"encoding":{"x":{"field":"col","type":"quantitative","title":null},"x2":{"field":"col2"},"y":{"field":"depth","type":"quantitative"}}},
{"data":{"name":"boxO"},"mark":{"type":"rect","fill":"#ffffff","stroke":"#000000","strokeWidth":2},"encoding":{"x":{"field":"col","type":"quantitative","title":null},"x2":{"field":"col2"},"y":{"field":"depth","type":"quantitative"},"y2":{"field":"depth2"}}},
{"data":{"name":"titleO"},"mark":{"type":"text","align":"left","baseline":"middle","fontSize":29.4,"color":"#000000","dy":1},"encoding":{"x":{"field":"col","type":"quantitative","title":null},"y":{"field":"depth","type":"quantitative"},"text":{"field":"t"}}},
{"data":{"name":"txtO"},"mark":{"type":"text","align":"left","baseline":"middle","fontSize":24,"color":"#000000"},"encoding":{"x":{"field":"col","type":"quantitative","title":null},"y":{"field":"depth","type":"quantitative"},"text":{"field":"t"}}}
]}
],
"bounds":"flush"
}
